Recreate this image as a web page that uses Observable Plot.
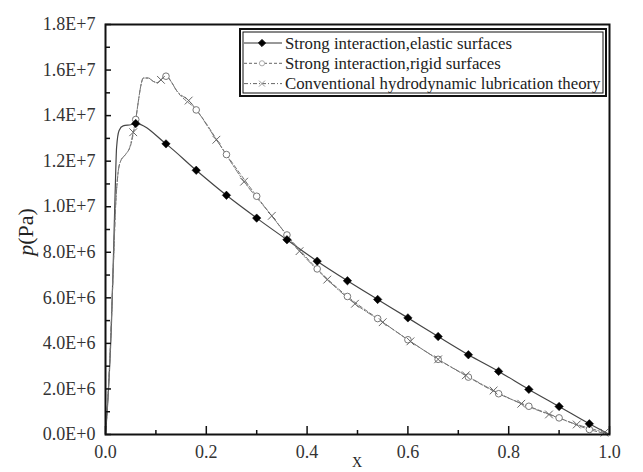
<!DOCTYPE html>
<html><head><meta charset="utf-8">
<script src="https://cdn.jsdelivr.net/npm/d3@7"></script>
<script src="https://cdn.jsdelivr.net/npm/@observablehq/plot@0.6"></script>
<style>
html,body{margin:0;padding:0;background:#fff;}
#chart svg{display:block;}
</style></head><body><div id="chart"></div>
<script>
// ---- data (pressure in Pa, X dimensionless) ----
const seriesNames = ["Strong interaction,elastic surfaces", "Strong interaction,rigid surfaces", "Conventional hydrodynamic lubrication theory"];

// Strong interaction, elastic surfaces
const elasticCurveX = [0, 0.006, 0.012, 0.016, 0.019, 0.022, 0.027, 0.035, 0.05, 1.0];
const elasticCurveP = [0, 2.0e6, 5.0e6, 8.0e6, 10.5e6, 12.6e6, 13.35e6, 13.55e6, 13.6e6, 0];
const elasticMarkX = [0.06, 0.12, 0.18, 0.24, 0.30, 0.36, 0.42, 0.48, 0.54, 0.60, 0.66, 0.72, 0.78, 0.84, 0.90, 0.96];
const elasticMarkP = [13.65e6, 12.76e6, 11.6e6, 10.5e6, 9.5e6, 8.55e6, 7.61e6, 6.75e6, 5.93e6, 5.12e6, 4.3e6, 3.5e6, 2.77e6, 1.98e6, 1.23e6, 0.47e6];

// Strong interaction, rigid surfaces
const rigidCurveX = [0, 0.008, 0.015, 0.02, 0.025, 0.03, 0.04, 0.05, 0.065, 0.07, 0.075, 0.085, 0.095, 0.103, 0.11, 0.13, 0.141, 1.0];
const rigidCurveP = [0, 3.0e6, 7.0e6, 10.0e6, 11.5e6, 12.0e6, 12.3e6, 12.7e6, 14.6e6, 15.3e6, 15.65e6, 15.65e6, 15.5e6, 15.45e6, 15.57e6, 15.5e6, 15.1e6, 0];
const rigidMarkX = [0.06, 0.12, 0.18, 0.24, 0.30, 0.36, 0.42, 0.48, 0.54, 0.60, 0.66, 0.72, 0.78, 0.84, 0.90, 0.96];
const rigidMarkP = [13.83e6, 15.73e6, 14.25e6, 12.29e6, 10.46e6, 8.76e6, 7.27e6, 6.06e6, 5.09e6, 4.16e6, 3.3e6, 2.52e6, 1.79e6, 1.24e6, 0.73e6, 0.22e6];

// Conventional hydrodynamic lubrication theory
const convCurveX = [0, 0.008, 0.015, 0.02, 0.025, 0.03, 0.04, 0.048, 0.06, 0.065, 0.07, 0.075, 0.085, 0.095, 0.103, 0.12, 0.13, 0.141, 1.0];
const convCurveP = [0, 3.0e6, 7.0e6, 10.0e6, 11.5e6, 12.0e6, 12.3e6, 12.6e6, 13.83e6, 14.6e6, 15.3e6, 15.65e6, 15.65e6, 15.5e6, 15.45e6, 15.78e6, 15.5e6, 15.1e6, 0];
const convMarkX = [0.055, 0.11, 0.165, 0.22, 0.275, 0.33, 0.385, 0.44, 0.495, 0.55, 0.605, 0.66, 0.715, 0.77, 0.825, 0.88, 0.935, 0.99];
const convMarkP = [13.27e6, 15.57e6, 14.66e6, 12.94e6, 11.1e6, 9.6e6, 8.05e6, 6.8e6, 5.74e6, 4.93e6, 4.09e6, 3.3e6, 2.6e6, 1.93e6, 1.35e6, 0.88e6, 0.44e6, 0.08e6];

// ticks
const xMajorTicks = [0, 0.2, 0.4, 0.6, 0.8, 1.0];
const xMinorTicks = [0.1, 0.3, 0.5, 0.7, 0.9];
const yMajorTicks = [0, 2e6, 4e6, 6e6, 8e6, 10e6, 12e6, 14e6, 16e6, 18e6];
const yMinorTicks = [1e6, 3e6, 5e6, 7e6, 9e6, 11e6, 13e6, 15e6, 17e6];

// ---- build tables ----
const zip = (xs, ys) => xs.map((x, i) => ({x, p: ys[i]}));
const lineOf = (cx, cp, mx, mp) => zip(cx, cp).concat(zip(mx, mp)).sort((a, b) => a.x - b.x);
const elasticLine = lineOf(elasticCurveX, elasticCurveP, elasticMarkX, elasticMarkP);
const rigidLine = lineOf(rigidCurveX, rigidCurveP, rigidMarkX, rigidMarkP);
const convLine = lineOf(convCurveX, convCurveP, convMarkX, convMarkP);

const W = 643, H = 472, mL = 105, mR = 34, mT = 24, mB = 38;
const pxX = 1 / (W - mL - mR);          // x data units per pixel
const pxY = 1.8e7 / (H - mT - mB);      // y data units per pixel

const sci = d => {
  if (d === 0) return "0.0E+0";
  const e = Math.floor(Math.log10(d) + 1e-9);
  return (d / Math.pow(10, e)).toFixed(1) + "E+" + e;
};

const FONT = "'Liberation Serif', 'DejaVu Serif', serif";
const plot = Plot.plot({
  width: W, height: H,
  marginLeft: mL, marginRight: mR, marginTop: mT, marginBottom: mB,
  style: {fontFamily: FONT, fontSize: "18px", color: "#333", background: "#fff"},
  x: {domain: [0, 1]},
  y: {domain: [0, 1.8e7]},
  marks: [
    Plot.line(elasticLine, {x: "x", y: "p", curve: "monotone-x", stroke: "#444", strokeWidth: 1.2}),
    Plot.line(rigidLine, {x: "x", y: "p", curve: "monotone-x", stroke: "#777", strokeWidth: 1, strokeDasharray: "4,2.5"}),
    Plot.line(convLine, {x: "x", y: "p", curve: "monotone-x", stroke: "#777", strokeWidth: 1, strokeDasharray: "6,2,1.5,2"}),
    Plot.dot(zip(rigidMarkX, rigidMarkP), {x: "x", y: "p", symbol: "circle", r: 3.3, stroke: "#777", fill: "white", strokeWidth: 1}),
    Plot.dot(zip(convMarkX, convMarkP), {x: "x", y: "p", symbol: "times", r: 3.6, stroke: "#666", strokeWidth: 1}),
    Plot.dot(zip(elasticMarkX, elasticMarkP), {x: "x", y: "p", symbol: "diamond2", r: 3.8, fill: "#000", stroke: "#000", strokeWidth: 0.5}),
    // inward ticks
    Plot.ruleY(yMajorTicks, {y: d => d, x1: 0, x2: 6 * pxX, stroke: "#111", strokeWidth: 1.5}),
    Plot.ruleY(yMinorTicks, {y: d => d, x1: 0, x2: 5 * pxX, stroke: "#111", strokeWidth: 1.5}),
    Plot.ruleX(xMajorTicks, {x: d => d, y1: 0, y2: 8 * pxY, stroke: "#111", strokeWidth: 1.5}),
    Plot.ruleX(xMinorTicks, {x: d => d, y1: 0, y2: 4 * pxY, stroke: "#111", strokeWidth: 1.5}),
    Plot.frame({stroke: "#111", strokeWidth: 2}),
    Plot.axisY(yMajorTicks, {tickSize: 0, tickPadding: 10, tickFormat: sci, label: null, fill: "#333"}),
    Plot.axisX(xMajorTicks, {tickSize: 0, tickPadding: 11, tickFormat: d => d.toFixed(1), label: null, fill: "#333"})
  ]
});
document.getElementById("chart").appendChild(plot);

// ---- axis titles and legend ----
const svg = d3.select(plot);
const yt = svg.append("text")
  .attr("transform", "translate(33,232) rotate(-90)")
  .attr("text-anchor", "middle")
  .attr("font-family", FONT).attr("font-size", 22).attr("fill", "#222");
yt.append("tspan").attr("font-style", "italic").text("p");
yt.append("tspan").text("(Pa)");

svg.append("text").attr("x", 357).attr("y", 467).attr("text-anchor", "middle")
  .attr("font-family", FONT).attr("font-size", 14).attr("fill", "#222").text("X");

const lg = svg.append("g").attr("text-anchor", "start");
lg.append("rect").attr("x", 240).attr("y", 29).attr("width", 366).attr("height", 67)
  .attr("fill", "white").attr("stroke", "#111").attr("stroke-width", 2);
lg.append("rect").attr("x", 243).attr("y", 32).attr("width", 360).attr("height", 61)
  .attr("fill", "none").attr("stroke", "#111").attr("stroke-width", 1);
const rows = [
  {dash: null, stroke: "#333", sym: d3.symbolDiamond2, fill: "#000", sstroke: "#000", r: 3.2},
  {dash: "3,2", stroke: "#666", sym: d3.symbolCircle, fill: "white", sstroke: "#aaa", r: 2.6},
  {dash: "4,2,1,2", stroke: "#666", sym: d3.symbolTimes, fill: "none", sstroke: "#999", r: 2.8}
];
rows.forEach((row, i) => {
  const cy = 43 + i * 20.3;
  lg.append("line").attr("x1", 244).attr("x2", 282).attr("y1", cy).attr("y2", cy)
    .attr("stroke", row.stroke).attr("stroke-width", 1).attr("stroke-dasharray", row.dash);
  lg.append("path").attr("transform", `translate(262,${cy})`)
    .attr("d", d3.symbol(row.sym, Math.PI * row.r * row.r)())
    .attr("fill", row.fill).attr("stroke", row.sstroke).attr("stroke-width", 1);
  lg.append("text").attr("x", 285).attr("y", cy).attr("dy", "0.35em").attr("text-anchor", "start")
    .attr("font-family", FONT).attr("font-size", 16.8).attr("fill", "#222").text(seriesNames[i]);
});
</script></body></html>
